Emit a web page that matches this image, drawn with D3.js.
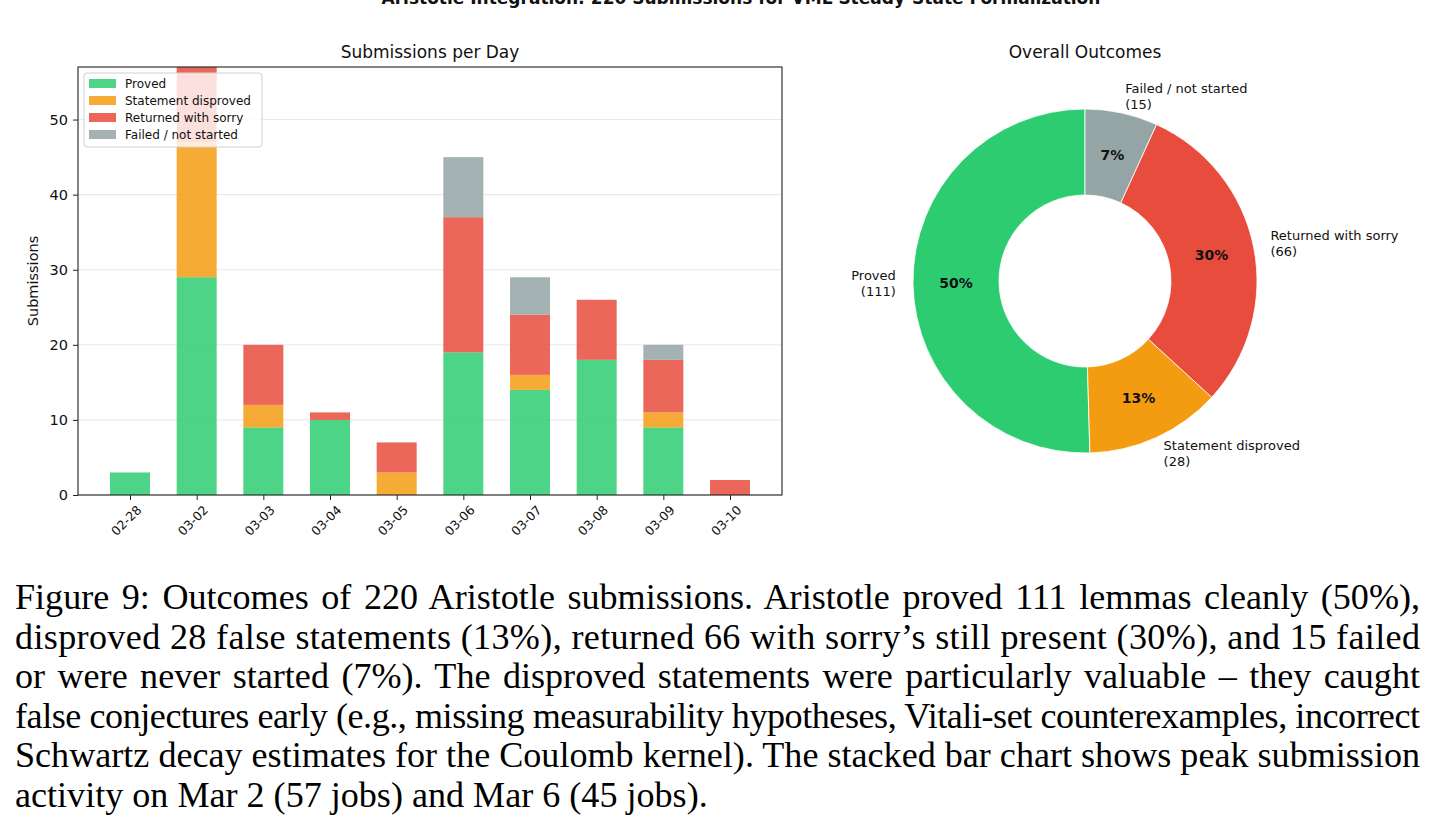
<!DOCTYPE html>
<html>
<head>
<meta charset="utf-8">
<script src="https://cdn.jsdelivr.net/npm/d3@7"></script>
<style>
  body { margin: 0; background: #fff; }
  svg text { font-family: "DejaVu Sans", sans-serif; fill: #111; }
  svg text.cap { font-family: "Liberation Serif", "DejaVu Serif", serif; fill: #000; }
</style>
</head>
<body>
<svg width="1435" height="836"></svg>
<script>
// data
var days = ["02-28", "03-02", "03-03", "03-04", "03-05", "03-06", "03-07", "03-08", "03-09", "03-10"];
var proved    = [3, 29, 9, 10, 0, 19, 14, 18, 9, 0];
var disproved = [0, 18, 3, 0, 3, 0, 2, 0, 2, 0];
var sorry     = [0, 10, 8, 1, 4, 18, 8, 8, 7, 2];
var failed    = [0, 0, 0, 0, 0, 8, 5, 0, 2, 0];
var seriesNames = ["Proved", "Statement disproved", "Returned with sorry", "Failed / not started"];
var totals = [111, 28, 66, 15];
var yTicks = [0, 10, 20, 30, 40, 50];
var captionLines = [
  "Figure 9:  Outcomes of 220 Aristotle submissions.  Aristotle proved 111 lemmas cleanly (50%),",
  "disproved 28 false statements (13%), returned 66 with sorry\u2019s still present (30%), and 15 failed",
  "or were never started (7%).  The disproved statements were particularly valuable \u2013 they caught",
  "false conjectures early (e.g., missing measurability hypotheses, Vitali-set counterexamples, incorrect",
  "Schwartz decay estimates for the Coulomb kernel).  The stacked bar chart shows peak submission",
  "activity on Mar 2 (57 jobs) and Mar 6 (45 jobs)."
];

var barColors = ["#2ecc71", "#f39c12", "#e74c3c", "#95a5a6"];

var svg = d3.select("svg");

// super title (cut off at top in the original)
svg.append("text")
    .attr("x", 741).attr("y", 4)
    .attr("text-anchor", "middle")
    .style("font-size", "17px").style("font-weight", "bold")
    .text("Aristotle Integration: 220 Submissions for VML Steady-State Formalization");

// ---------- stacked bars ----------
var pLeft = 78, pRight = 782, pTop = 67, pBottom = 495;

var x = d3.scaleLinear().domain([-0.78, 9.78]).range([pLeft, pRight]);
var y = d3.scaleLinear().domain([0, 57]).range([pBottom, pTop]);

var rows = days.map(function(d, i) {
  return {day: d, i: i, p: proved[i], d: disproved[i], s: sorry[i], f: failed[i]};
});
var stack = d3.stack().keys(["p", "d", "s", "f"]);
var layers = stack(rows);

var g = svg.append("g");

// grid
g.selectAll("line.grid")
  .data(yTicks)
  .enter().append("line")
    .attr("x1", pLeft).attr("x2", pRight)
    .attr("y1", function(d) { return y(d); })
    .attr("y2", function(d) { return y(d); })
    .attr("stroke", "#b0b0b0").attr("stroke-opacity", 0.3).attr("stroke-width", 1);

svg.append("clipPath").attr("id", "plotclip")
  .append("rect").attr("x", pLeft).attr("y", pTop).attr("width", pRight - pLeft).attr("height", pBottom - pTop);

g.append("g").attr("clip-path", "url(#plotclip)")
  .selectAll("g")
  .data(layers)
  .enter().append("g")
    .attr("fill", function(d, k) { return barColors[k]; })
    .attr("fill-opacity", 0.85)
  .selectAll("rect")
  .data(function(d) { return d; })
  .enter().append("rect")
    .attr("x", function(d) { return x(d.data.i - 0.3); })
    .attr("width", x(0.6) - x(0))
    .attr("y", function(d) { return y(d[1]); })
    .attr("height", function(d) { return y(d[0]) - y(d[1]); });

// axes
var yAxis = d3.axisLeft(y).tickValues(yTicks).tickSize(5).tickPadding(5);
var gy = svg.append("g").attr("transform", "translate(" + pLeft + ",0)").call(yAxis);
gy.selectAll("text").style("font-size", "14.5px");

var xAxis = d3.axisBottom(x).tickValues(d3.range(days.length))
  .tickFormat(function(i) { return days[i]; }).tickSize(5);
var gx = svg.append("g").attr("transform", "translate(0," + pBottom + ")").call(xAxis);
gx.selectAll("text")
  .style("font-size", "12.5px")
  .attr("text-anchor", "end")
  .attr("dy", null)
  .attr("x", 0).attr("y", 0)
  .attr("dominant-baseline", "hanging")
  .attr("transform", "translate(5,9) rotate(-45)");
[gx, gy].forEach(function(a) {
  a.select(".domain").remove();
  a.selectAll("line").attr("stroke", "#222");
});

// frame
svg.append("rect")
  .attr("x", pLeft).attr("y", pTop).attr("width", pRight - pLeft).attr("height", pBottom - pTop)
  .attr("fill", "none").attr("stroke", "#222").attr("stroke-width", 1.1);

svg.append("text")
  .attr("x", (pLeft + pRight) / 2).attr("y", 58)
  .attr("text-anchor", "middle").style("font-size", "17px")
  .text("Submissions per Day");

svg.append("text")
  .attr("transform", "translate(38," + (pTop + pBottom) / 2 + ") rotate(-90)")
  .attr("text-anchor", "middle").style("font-size", "14.5px")
  .text("Submissions");

// legend
var leg = svg.append("g").attr("transform", "translate(84,73)");
leg.append("rect")
  .attr("width", 178).attr("height", 74).attr("rx", 3)
  .attr("fill", "#fff").attr("fill-opacity", 0.8)
  .attr("stroke", "#d0d0d0");
var items = leg.selectAll("g.item")
  .data(seriesNames)
  .enter().append("g")
    .attr("transform", function(d, k) { return "translate(5," + (11 + k * 17) + ")"; });
items.append("rect")
  .attr("x", 0).attr("y", -5).attr("width", 27).attr("height", 9)
  .attr("fill", function(d, k) { return barColors[k]; }).attr("fill-opacity", 0.85);
items.append("text")
  .attr("x", 36).attr("y", 0).attr("dominant-baseline", "central")
  .style("font-size", "12px")
  .text(function(d) { return d; });

// ---------- donut ----------
var cx = 1085, cy = 281, R = 172;
var pie = d3.pie().sort(null).startAngle(0).endAngle(-2 * Math.PI);
var arcs = pie(totals);
var arc = d3.arc().innerRadius(R * 0.5).outerRadius(R);
var sum = d3.sum(totals);

var pg = svg.append("g").attr("transform", "translate(" + cx + "," + cy + ")");
pg.selectAll("path")
  .data(arcs)
  .enter().append("path")
    .attr("d", arc)
    .attr("fill", function(d, k) { return barColors[k]; })
    .attr("stroke", "#fff").attr("stroke-width", 0.8);

function pos(d, r) {
  var a = (d.startAngle + d.endAngle) / 2;
  return [r * Math.sin(a), -r * Math.cos(a)];
}

pg.selectAll("text.pct")
  .data(arcs)
  .enter().append("text")
    .attr("x", function(d) { return pos(d, R * 0.75)[0]; })
    .attr("y", function(d) { return pos(d, R * 0.75)[1]; })
    .attr("text-anchor", "middle").attr("dominant-baseline", "central")
    .style("font-size", "14px").style("font-weight", "bold")
    .text(function(d) { return Math.round(d.value / sum * 100) + "%"; });

var lab = pg.selectAll("text.lab")
  .data(arcs)
  .enter().append("text")
    .attr("text-anchor", function(d) { return pos(d, 1)[0] < 0 ? "end" : "start"; })
    .style("font-size", "13px");
lab.append("tspan")
  .attr("x", function(d) { return pos(d, R * 1.1)[0]; })
  .attr("y", function(d) { return pos(d, R * 1.1)[1] - 8; })
  .attr("dominant-baseline", "central")
  .text(function(d, k) { return seriesNames[k]; });
lab.append("tspan")
  .attr("x", function(d) { return pos(d, R * 1.1)[0]; })
  .attr("y", function(d) { return pos(d, R * 1.1)[1] + 8; })
  .attr("dominant-baseline", "central")
  .text(function(d) { return "(" + d.value + ")"; });

svg.append("text")
  .attr("x", cx).attr("y", 58)
  .attr("text-anchor", "middle").style("font-size", "17px")
  .text("Overall Outcomes");

// ---------- caption ----------
var capLeft = 15, capRight = 1420;
var cap = svg.selectAll("text.cap")
  .data(captionLines)
  .enter().append("text")
    .attr("class", "cap")
    .attr("x", capLeft)
    .attr("y", function(d, k) { return 609 + k * 39.6; })
    .style("font-size", "28px")
    .text(function(d) { return d.replace(/  /g, " "); });

// size font so the last line matches its width, then justify the others
var lastW = cap.nodes()[5].getComputedTextLength();
var fs = 28 * 693 / lastW;
cap.style("font-size", fs + "px");
cap.each(function(d, k) {
  if (k === captionLines.length - 1) return;
  var el = d3.select(this);
  var w = this.getComputedTextLength();
  var n = (this.textContent.match(/ /g) || []).length;
  var extra = capRight - capLeft - w;
  if (extra / n > 3) {
    el.style("word-spacing", (extra / n) + "px");
  } else {
    // too tight for word spacing alone: spread across all glyph gaps
    el.attr("textLength", capRight - capLeft).attr("lengthAdjust", "spacing");
  }
});
</script>
</body>
</html>
